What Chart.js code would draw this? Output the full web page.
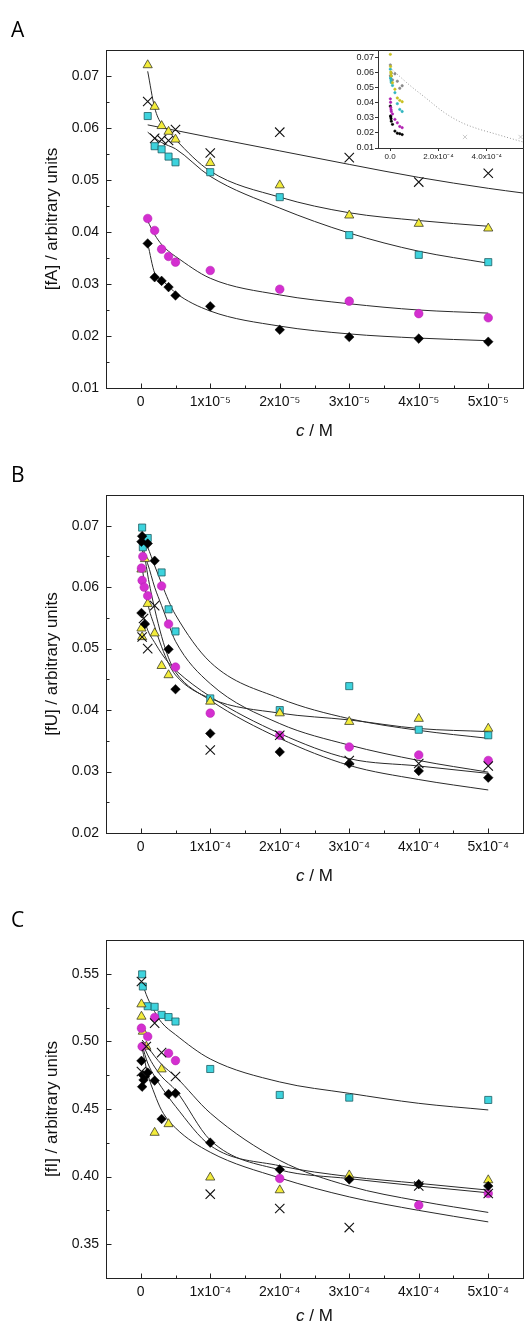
<!DOCTYPE html>
<html>
<head>
<meta charset="utf-8">
<script src="https://cdn.jsdelivr.net/npm/chart.js@4.4.1/dist/chart.umd.min.js"></script>
<style>
  html, body { margin:0; padding:0; background:#fff; overflow:hidden; }
  #wrap { position:relative; width:525px; height:1325px; overflow:hidden; }
  canvas { position:absolute; left:0; }
</style>
</head>
<body>
<div id="wrap">
  <canvas id="chartA" width="525" height="445" style="top:0"></canvas>
  <canvas id="inset" width="185" height="125" style="left:340px;top:40px"></canvas>
  <canvas id="chartB" width="525" height="445" style="top:445px"></canvas>
  <canvas id="chartC" width="525" height="445" style="top:890px"></canvas>
</div>
<script>
// ---- panel A (c up to 5x10^-5 M) ----
var aConc    = [1e-6, 2e-6, 3e-6, 4e-6, 5e-6, 1e-5, 2e-5, 3e-5, 4e-5, 5e-5];
var aYellow  = [0.0721, 0.0641, 0.0604, 0.0593, 0.0578, 0.0533, 0.0490, 0.0432, 0.0416, 0.0407];
var aCyan    = [0.0623, 0.0565, 0.0559, 0.0545, 0.0534, 0.0515, 0.0467, 0.0394, 0.0356, 0.0342];
var aMagenta = [0.0426, 0.0403, 0.0367, 0.0353, 0.0342, 0.0326, 0.0290, 0.0267, 0.0243, 0.0235];
var aBlack   = [0.0378, 0.0313, 0.0306, 0.0294, 0.0278, 0.0257, 0.0212, 0.0198, 0.0195, 0.0189];
var aCross   = [0.0651, 0.0580, 0.0578, 0.0576, 0.0597, 0.0552, 0.0592, 0.0543, 0.0496, 0.0513];
// fitted curves
var aFitYellow  = [0.0709, 0.0639, 0.0607, 0.0594, 0.0578, 0.0517, 0.0467, 0.0437, 0.0422, 0.0411];
var aFitCyan    = [0.0592, 0.0581, 0.0572, 0.0566, 0.0560, 0.0507, 0.0446, 0.0398, 0.0363, 0.0340];
var aFitMagenta = [0.0421, 0.0395, 0.0376, 0.0363, 0.0353, 0.0311, 0.0279, 0.0262, 0.0250, 0.0244];
var aFitBlack   = [0.0378, 0.0321, 0.0308, 0.0296, 0.0283, 0.0248, 0.0219, 0.0204, 0.0196, 0.0191];
var aFitCrossX  = [1e-6, 1e-5, 2e-5, 3e-5, 4e-5, 5e-5, 5.5e-5];
var aFitCross   = [0.0606, 0.0582, 0.0556, 0.0530, 0.0505, 0.0484, 0.0475];
var aXTicks  = [0, 1e-5, 2e-5, 3e-5, 4e-5, 5e-5];
var aXLabels = ['0', '1x10\u207B\u2075', '2x10\u207B\u2075', '3x10\u207B\u2075', '4x10\u207B\u2075', '5x10\u207B\u2075'];
var aYTicks  = [0.01, 0.02, 0.03, 0.04, 0.05, 0.06, 0.07];
var aYLabels = ['0.01', '0.02', '0.03', '0.04', '0.05', '0.06', '0.07'];

// inset of panel A (longer c range)
var insetCurveX = [0.1e-4, 0.8e-4, 1.5e-4, 2.2e-4, 2.9e-4, 3.6e-4, 4.3e-4, 5.0e-4, 5.5e-4];
var insetCurveY = [0.0618, 0.0518, 0.0429, 0.0340, 0.0273, 0.0229, 0.0196, 0.0163, 0.0140];
var insetCrossX = [3.1e-4, 5.4e-4];
var insetCrossY = [0.0173, 0.0173];
var insetXTicks  = [0, 2e-4, 4e-4];
var insetXLabels = ['0.0', '2.0x10\u207B\u2074', '4.0x10\u207B\u2074'];

// ---- panel B ----
var bCyanX = [2e-6, 1e-5, 3e-6, 3e-5, 4e-5, 5e-5, 1e-4, 2e-4, 3e-4, 4e-4, 5e-4];
var bCyanY = [0.0697, 0.0680, 0.0665, 0.0624, 0.0564, 0.0528, 0.0419, 0.0400, 0.0439, 0.0368, 0.0359];
var bBlackX = [2e-6, 1e-6, 1e-5, 2e-5, 1e-6, 6e-6, 4e-5, 5e-5, 1e-4, 2e-4, 3e-4, 4e-4, 5e-4];
var bBlackY = [0.0683, 0.0674, 0.0671, 0.0643, 0.0558, 0.0540, 0.0499, 0.0434, 0.0362, 0.0332, 0.0313, 0.0301, 0.0290];
var bMagX = [3e-6, 1e-6, 2e-6, 5e-6, 1e-5, 3e-5, 4e-5, 5e-5, 1e-4, 2e-4, 3e-4, 4e-4, 5e-4];
var bMagY = [0.0650, 0.0631, 0.0611, 0.0600, 0.0586, 0.0602, 0.0540, 0.0470, 0.0395, 0.0359, 0.0340, 0.0327, 0.0318];
var bYelX = [6e-6, 1e-6, 1e-5, 1e-6, 2e-6, 2e-5, 3e-5, 4e-5, 1e-4, 2e-4, 3e-4, 4e-4, 5e-4];
var bYelY = [0.0646, 0.0629, 0.0573, 0.0533, 0.0519, 0.0525, 0.0472, 0.0457, 0.0414, 0.0395, 0.0381, 0.0386, 0.0370];
var bCrossX = [2e-6, 4e-6, 1e-5, 2e-5, 1e-4, 2e-4, 3e-4, 4e-4, 5e-4];
var bCrossY = [0.0519, 0.0549, 0.0500, 0.0570, 0.0335, 0.0359, 0.0318, 0.0313, 0.0309];
var bFitX     = [2e-6, 1e-5, 2e-5, 3e-5, 4e-5, 5e-5, 1e-4, 2e-4, 3e-4, 4e-4, 5e-4];
var bFitCyan  = [0.0685, 0.0665, 0.0635, 0.0606, 0.0578, 0.0555, 0.0478, 0.0419, 0.0386, 0.0367, 0.0354];
var bFitMag   = [0.0660, 0.0638, 0.0600, 0.0570, 0.0540, 0.0512, 0.0443, 0.0378, 0.0343, 0.0318, 0.0299];
var bFitYel   = [0.0632, 0.0574, 0.0536, 0.0503, 0.0476, 0.0457, 0.0419, 0.0395, 0.0384, 0.0370, 0.0365];
var bFitCross = [0.0560, 0.0530, 0.0510, 0.0492, 0.0477, 0.0465, 0.0422, 0.0362, 0.0321, 0.0309, 0.0297];
var bFitBlack = [0.0680, 0.0620, 0.0565, 0.0520, 0.0485, 0.0462, 0.0416, 0.0354, 0.0310, 0.0287, 0.0270];
var bYTicks  = [0.02, 0.03, 0.04, 0.05, 0.06, 0.07];
var bYLabels = ['0.02', '0.03', '0.04', '0.05', '0.06', '0.07'];

// ---- panel C ----
var cCyanX = [2e-6, 3e-6, 1e-5, 2e-5, 3e-5, 4e-5, 5e-5, 1e-4, 2e-4, 3e-4, 5e-4];
var cCyanY = [0.5496, 0.5406, 0.5260, 0.5256, 0.5196, 0.5180, 0.5147, 0.4796, 0.4604, 0.4584, 0.4567];
var cYelX = [1e-6, 1e-6, 3e-6, 8e-6, 3e-5, 2e-5, 4e-5, 1e-4, 2e-4, 3e-4, 5e-4];
var cYelY = [0.5275, 0.5184, 0.5073, 0.4962, 0.4794, 0.4325, 0.4389, 0.3994, 0.3900, 0.4010, 0.3974];
var cMagX = [1e-6, 1e-5, 2e-5, 2e-6, 4e-5, 5e-5, 2e-4, 4e-4, 5e-4];
var cMagY = [0.5098, 0.5036, 0.5177, 0.4962, 0.4912, 0.4858, 0.3986, 0.3789, 0.3875];
var cBlackX = [1e-6, 3e-6, 1e-5, 4e-6, 2e-6, 6e-6, 2e-5, 3e-5, 4e-5, 5e-5, 1e-4, 2e-4, 3e-4, 4e-4, 5e-4];
var cBlackY = [0.4856, 0.4752, 0.4769, 0.4715, 0.4665, 0.4740, 0.4710, 0.4426, 0.4611, 0.4616, 0.4251, 0.4053, 0.3979, 0.3944, 0.3930];
var cCrossX = [1e-6, 2e-5, 3e-5, 5e-5, 1e-6, 8e-6, 1e-4, 2e-4, 3e-4, 4e-4, 5e-4];
var cCrossY = [0.5443, 0.5135, 0.4917, 0.4740, 0.4777, 0.4962, 0.3870, 0.3764, 0.3623, 0.3930, 0.3875];
var cFitX    = [2e-6, 1e-5, 2e-5, 3e-5, 5e-5, 1e-4, 2e-4, 3e-4, 4e-4, 5e-4];
var cFitCyan = [0.543, 0.532, 0.522, 0.514, 0.505, 0.487, 0.470, 0.4616, 0.4542, 0.4493];
var cFit1    = [0.501, 0.496, 0.489, 0.483, 0.474, 0.447, 0.412, 0.393, 0.382, 0.3735];
var cFit2    = [0.499, 0.490, 0.481, 0.474, 0.464, 0.427, 0.405, 0.3985, 0.393, 0.388];
var cFit3    = [0.497, 0.484, 0.474, 0.466, 0.452, 0.423, 0.408, 0.400, 0.395, 0.390];
var cFit4    = [0.495, 0.476, 0.461, 0.449, 0.436, 0.418, 0.399, 0.385, 0.375, 0.3665];
var cYTicks  = [0.35, 0.40, 0.45, 0.50, 0.55];
var cYLabels = ['0.35', '0.40', '0.45', '0.50', '0.55'];

var bcXTicks  = [0, 1e-4, 2e-4, 3e-4, 4e-4, 5e-4];
var bcXLabels = ['0', '1x10\u207B\u2074', '2x10\u207B\u2074', '3x10\u207B\u2074', '4x10\u207B\u2074', '5x10\u207B\u2074'];

var FONT = '"Liberation Sans", Arial, sans-serif';

function pts(xs, ys) {
	return xs.map(function (v, i) { return {x: v, y: ys[i]}; });
}

// marker looks
var mk = {
	yellow:  {pointStyle: 'triangle', backgroundColor: '#f3ec3a', borderColor: '#3c3c28', borderWidth: 0.8, pointRadius: 5.3},
	cyan:    {pointStyle: 'rect', backgroundColor: '#3dd3dd', borderColor: '#1d5d62', borderWidth: 0.8, pointRadius: 5},
	magenta: {pointStyle: 'circle', backgroundColor: '#d42fd0', borderColor: '#b01eac', borderWidth: 0.5, pointRadius: 4.3},
	black:   {pointStyle: 'rectRot', backgroundColor: '#000', borderColor: '#000', borderWidth: 0.5, pointRadius: 4.8},
	cross:   {pointStyle: 'crossRot', backgroundColor: '#111', borderColor: '#111', borderWidth: 1.1, pointRadius: 6.6}
};

function scat(xs, ys, look) {
	var d = {data: pts(xs, ys), showLine: false};
	for (var k in look) d[k] = look[k];
	return d;
}
function curve(xs, ys) {
	return {data: pts(xs, ys), showLine: true, pointRadius: 0, borderColor: '#2a2a2a',
		borderWidth: 1, cubicInterpolationMode: 'monotone', fill: false};
}

// frame, inward ticks, panel letter and x title
var decor = {
	id: 'decor',
	afterDraw: function (chart, args, o) {
		var ctx = chart.ctx, a = chart.chartArea, x = chart.scales.x, y = chart.scales.y;
		var L = Math.round(a.left) + 0.5, R = Math.round(a.right) + 0.5;
		var T = Math.round(a.top) + 0.5, B = Math.round(a.bottom) + 0.5;
		ctx.save();
		ctx.strokeStyle = '#222';
		ctx.lineWidth = 1;
		ctx.strokeRect(L, T, R - L, B - T);
		ctx.beginPath();
		o.xMajor.forEach(function (v) {
			var p = Math.round(x.getPixelForValue(v)) + 0.5;
			ctx.moveTo(p, B); ctx.lineTo(p, B - 5);
		});
		o.xMinor.forEach(function (v) {
			var p = Math.round(x.getPixelForValue(v)) + 0.5;
			ctx.moveTo(p, B); ctx.lineTo(p, B - 3);
		});
		o.yMajor.forEach(function (v) {
			var p = Math.round(y.getPixelForValue(v)) + 0.5;
			ctx.moveTo(L, p); ctx.lineTo(L + 5, p);
		});
		o.yMinor.forEach(function (v) {
			var p = Math.round(y.getPixelForValue(v)) + 0.5;
			ctx.moveTo(L, p); ctx.lineTo(L + 3, p);
		});
		ctx.stroke();

		ctx.fillStyle = '#000';
		ctx.font = '21px "Open Sans", sans-serif';
		ctx.textBaseline = 'alphabetic';
		ctx.textAlign = 'left';
		ctx.fillText(o.letter, 11, 37);

		// "c / M" with italic c
		ctx.fillStyle = '#111';
		var f1 = 'italic 17px ' + FONT, f2 = '17px ' + FONT;
		ctx.font = f1; var w1 = ctx.measureText('c').width;
		ctx.font = f2; var w2 = ctx.measureText(' / M').width;
		var cx = (a.left + a.right) / 2 - (w1 + w2) / 2;
		ctx.font = f1; ctx.fillText('c', cx, o.titleY);
		ctx.font = f2; ctx.fillText(' / M', cx + w1, o.titleY);
		ctx.restore();
	}
};

function makePanel(id, o) {
	return new Chart(document.getElementById(id), {
		type: 'scatter',
		data: {datasets: o.datasets},
		options: {
			responsive: false, animation: false, devicePixelRatio: 1,
			layout: {autoPadding: false, padding: {left: 0, top: 50, right: 2, bottom: 0}},
			plugins: {
				legend: {display: false}, tooltip: {enabled: false},
				decor: {letter: o.letter, titleY: o.titleY, xMajor: o.xTicks, xMinor: o.xMinor, yMajor: o.yTicks, yMinor: o.yMinor}
			},
			scales: {
				x: {
					type: 'linear', min: o.xMin, max: o.xMax,
					afterBuildTicks: function (s) { s.ticks = o.xTicks.map(function (v) { return {value: v}; }); },
					afterFit: function (s) { s.height = 57; },
					grid: {display: false, drawTicks: false}, border: {display: false},
					ticks: {padding: 6, color: '#111', font: {family: FONT, size: 14}, maxRotation: 0, autoSkip: false,
						callback: function (v, i) { return o.xLabels[i]; }}
				},
				y: {
					type: 'linear', min: o.yMin, max: o.yMax,
					afterBuildTicks: function (s) { s.ticks = o.yTicks.map(function (v) { return {value: v}; }); },
					afterFit: function (s) { s.width = 106; },
					grid: {display: false, drawTicks: false}, border: {display: false},
					ticks: {padding: 7, color: '#111', font: {family: FONT, size: 14}, autoSkip: false,
						callback: function (v, i) { return o.yLabels[i]; }},
					title: {display: true, text: o.yTitle, color: '#111', font: {family: FONT, size: 17},
						padding: {top: 42, bottom: 0}}
				}
			}
		},
		plugins: [decor]
	});
}

makePanel('chartA', {
	letter: 'A', yTitle: '[fA] / arbitrary units', titleY: 436,
	xMin: -0.5e-5, xMax: 5.5e-5, yMin: 0.01, yMax: 0.075,
	xTicks: aXTicks, xLabels: aXLabels, xMinor: [0.5e-5, 1.5e-5, 2.5e-5, 3.5e-5, 4.5e-5],
	yTicks: aYTicks, yLabels: aYLabels, yMinor: [0.015, 0.025, 0.035, 0.045, 0.055, 0.065],
	datasets: [
		scat(aConc, aYellow, mk.yellow),
		scat(aConc, aCyan, mk.cyan),
		scat(aConc, aMagenta, mk.magenta),
		scat(aConc, aBlack, mk.black),
		scat(aConc, aCross, mk.cross),
		curve(aConc, aFitYellow),
		curve(aConc, aFitCyan),
		curve(aConc, aFitMagenta),
		curve(aConc, aFitBlack),
		curve(aFitCrossX, aFitCross)
	]
});

makePanel('chartB', {
	letter: 'B', yTitle: '[fU] / arbitrary units', titleY: 436,
	xMin: -0.5e-4, xMax: 5.5e-4, yMin: 0.02, yMax: 0.075,
	xTicks: bcXTicks, xLabels: bcXLabels, xMinor: [0.5e-4, 1.5e-4, 2.5e-4, 3.5e-4, 4.5e-4],
	yTicks: bYTicks, yLabels: bYLabels, yMinor: [0.025, 0.035, 0.045, 0.055, 0.065],
	datasets: [
		scat(bCrossX, bCrossY, mk.cross),
		scat(bBlackX, bBlackY, mk.black),
		scat(bMagX, bMagY, mk.magenta),
		scat(bYelX, bYelY, mk.yellow),
		scat(bCyanX, bCyanY, mk.cyan),
		curve(bFitX, bFitCyan),
		curve(bFitX, bFitMag),
		curve(bFitX, bFitYel),
		curve(bFitX, bFitCross),
		curve(bFitX, bFitBlack)
	]
});

makePanel('chartC', {
	letter: 'C', yTitle: '[fI] / arbitrary units', titleY: 431,
	xMin: -0.5e-4, xMax: 5.5e-4, yMin: 0.325, yMax: 0.575,
	xTicks: bcXTicks, xLabels: bcXLabels, xMinor: [0.5e-4, 1.5e-4, 2.5e-4, 3.5e-4, 4.5e-4],
	yTicks: cYTicks, yLabels: cYLabels, yMinor: [0.375, 0.425, 0.475, 0.525],
	datasets: [
		scat(cCrossX, cCrossY, mk.cross),
		scat(cBlackX, cBlackY, mk.black),
		scat(cMagX, cMagY, mk.magenta),
		scat(cYelX, cYelY, mk.yellow),
		scat(cCyanX, cCyanY, mk.cyan),
		curve(cFitX, cFitCyan),
		curve(cFitX, cFit1),
		curve(cFitX, cFit2),
		curve(cFitX, cFit3),
		curve(cFitX, cFit4)
	]
});

// inset: same panel A points, tiny, plus the long dotted gray curve
function dot(xs, ys, col, style, r) {
	return {data: pts(xs, ys), showLine: false, pointStyle: style || 'circle', pointRadius: r || 1.2,
		backgroundColor: col, borderColor: col, borderWidth: 0.6};
}
new Chart(document.getElementById('inset'), {
	type: 'scatter',
	data: {datasets: [
		dot(aConc, aYellow, '#c8c020'),
		dot(aConc, aCyan, '#2fb5bf'),
		dot(aConc, aMagenta, '#b020b0'),
		dot(aConc, aBlack, '#000'),
		dot(aConc, aCross, '#888'),
		dot(insetCrossX, insetCrossY, '#aaa', 'crossRot', 3),
		{data: pts(insetCurveX, insetCurveY), showLine: true, pointRadius: 0, borderColor: '#999',
			borderWidth: 1, borderDash: [1, 2], cubicInterpolationMode: 'monotone'}
	]},
	options: {
		responsive: false, animation: false, devicePixelRatio: 1,
		layout: {autoPadding: false, padding: {left: 0, top: 10, right: 2, bottom: 0}},
		plugins: {legend: {display: false}, tooltip: {enabled: false}},
		scales: {
			x: {
				type: 'linear', min: -0.5e-4, max: 5.5e-4,
				afterBuildTicks: function (s) { s.ticks = insetXTicks.map(function (v) { return {value: v}; }); },
				afterFit: function (s) { s.height = 17; },
				grid: {drawOnChartArea: false, drawTicks: true, tickLength: 3, color: '#333'},
				border: {display: true, color: '#333'},
				ticks: {padding: 1, color: '#222', font: {family: FONT, size: 8}, maxRotation: 0, autoSkip: false,
					callback: function (v, i) { return insetXLabels[i]; }}
			},
			y: {
				type: 'linear', min: 0.01, max: 0.075,
				afterBuildTicks: function (s) { s.ticks = aYTicks.map(function (v) { return {value: v}; }); },
				afterFit: function (s) { s.width = 38; },
				grid: {drawOnChartArea: false, drawTicks: true, tickLength: 3, color: '#333'},
				border: {display: true, color: '#333'},
				ticks: {padding: 1, color: '#222', font: {family: FONT, size: 9}, autoSkip: false,
					callback: function (v, i) { return aYLabels[i]; }}
			}
		}
	}
});
</script>
</body>
</html>
